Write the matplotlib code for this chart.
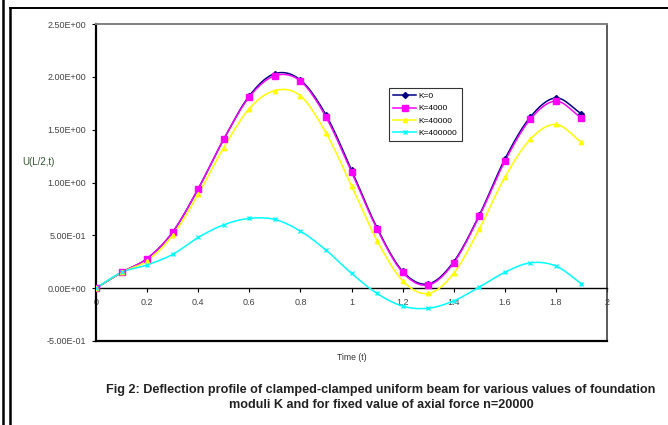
import numpy as np
import matplotlib
matplotlib.use("Agg")
import matplotlib.pyplot as plt
from matplotlib.ticker import FuncFormatter
from matplotlib.lines import Line2D

plt.rcParams['font.family'] = ['Liberation Sans', 'DejaVu Sans']

time = [0.0, 0.1, 0.2, 0.3, 0.4, 0.5, 0.6, 0.7, 0.8, 0.9,
        1.0, 1.1, 1.2, 1.3, 1.4, 1.5, 1.6, 1.7, 1.8, 1.9]

u_k0 = [0.0, 0.15, 0.28, 0.53, 0.94, 1.41, 1.82, 2.03, 1.97, 1.64,
        1.12, 0.57, 0.16, 0.04, 0.25, 0.69, 1.22, 1.62, 1.80, 1.65]
u_k4000 = [0.0, 0.15, 0.28, 0.53, 0.94, 1.41, 1.81, 2.01, 1.96, 1.62,
           1.10, 0.56, 0.15, 0.03, 0.24, 0.68, 1.20, 1.60, 1.77, 1.61]
u_k40000 = [0.0, 0.15, 0.26, 0.50, 0.89, 1.33, 1.70, 1.87, 1.82, 1.47,
            0.97, 0.45, 0.07, -0.05, 0.14, 0.56, 1.05, 1.41, 1.55, 1.38]
u_k400000 = [0.0, 0.15, 0.22, 0.32, 0.48, 0.60, 0.66, 0.65, 0.54, 0.36,
             0.14, -0.05, -0.17, -0.19, -0.12, 0.01, 0.15, 0.24, 0.21, 0.04]

labels = ['K=0', 'K=4000', 'K=40000', 'K=400000']
colors = ['#000080', '#FF00FF', '#FFFF00', '#00FFFF']
markers = ['D', 's', '^', 'x']
msizes = [3.0, 4.0, 3.2, 3.5]
series = [u_k0, u_k4000, u_k40000, u_k400000]


def smooth(x, y, n=12):
    # Excel style smoothed line (Catmull-Rom between the data points)
    x = np.asarray(x, float)
    y = np.asarray(y, float)
    px = np.concatenate([[2 * x[0] - x[1]], x, [2 * x[-1] - x[-2]]])
    py = np.concatenate([[2 * y[0] - y[1]], y, [2 * y[-1] - y[-2]]])
    xs, ys = [], []
    t = np.linspace(0, 1, n, endpoint=False)
    for i in range(1, len(px) - 2):
        for p, out in ((px, xs), (py, ys)):
            p0, p1, p2, p3 = p[i - 1], p[i], p[i + 1], p[i + 2]
            out.extend(0.5 * ((2 * p1) + (-p0 + p2) * t
                              + (2 * p0 - 5 * p1 + 4 * p2 - p3) * t ** 2
                              + (-p0 + 3 * p1 - 3 * p2 + p3) * t ** 3))
    xs.append(x[-1])
    ys.append(y[-1])
    return np.array(xs), np.array(ys)


fig = plt.figure(figsize=(6.68, 4.25), dpi=100)
ax = fig.add_axes([96 / 668, 84 / 425, 511 / 668, 317 / 425])

for y, c, m, ms, lab in zip(series, colors, markers, msizes, labels):
    sx, sy = smooth(time, y)
    ax.plot(sx, sy, color=c, lw=1.1, zorder=3)
    ax.plot(time, y, ls='none', marker=m, color=c, ms=ms,
            mew=1.0, zorder=4)

ax.set_xlim(0, 2)
ax.set_ylim(-0.5, 2.5)
ax.set_xticks(np.arange(0, 2.01, 0.2))
ax.set_yticks(np.arange(-0.5, 2.51, 0.5))
ax.xaxis.set_major_formatter(FuncFormatter(lambda v, p: f'{v:g}'))
ax.yaxis.set_major_formatter(FuncFormatter(lambda v, p: f'{v:.2E}'))
ax.tick_params(labelsize=6.5, colors='black', length=3, width=0.8,
               pad=4, labelcolor='#444444')

ax.spines['bottom'].set_position(('data', 0))
ax.spines['bottom'].set_linewidth(1.0)
ax.spines['left'].set_linewidth(1.6)
ax.spines['top'].set_color('#808080')
ax.spines['top'].set_linewidth(1.4)
ax.spines['right'].set_color('#404040')
ax.spines['right'].set_linewidth(1.2)
ax.axhline(-0.5, color='black', lw=1.6, clip_on=False, zorder=5)

handles = [Line2D([], [], color=c, marker=m, ms=ms, lw=1.1)
           for c, m, ms in zip(colors, markers, msizes)]
leg = ax.legend(handles, labels, loc='upper left',
                bbox_to_anchor=(0.573, 0.798), fontsize=6.0,
                frameon=True, fancybox=False, handlelength=2.8,
                borderpad=0.5, labelspacing=0.55, handletextpad=0.3,
                borderaxespad=0)
leg.get_frame().set_edgecolor('black')
leg.get_frame().set_linewidth(0.8)

fig.text(22 / 668, 1 - 162 / 425, 'U(L/2,t)', fontsize=7,
         color='#335533', va='center', ha='left')
fig.text(352 / 668, 1 - 357 / 425, 'Time (t)', fontsize=6.2,
         color='#333333', va='center', ha='center')
fig.text(381 / 668, 1 - 390 / 425,
         'Fig 2: Deflection profile of clamped-clamped uniform beam for '
         'various values of foundation', fontsize=9.1, weight='bold',
         color='#222222', ha='center', va='center')
fig.text(381 / 668, 1 - 405 / 425,
         'moduli K and for fixed value of axial force n=20000',
         fontsize=9.1, weight='bold', color='#222222',
         ha='center', va='center')

# outer frame lines of the figure
fig.add_artist(Line2D([3 / 668, 3 / 668], [0, 1], color='black', lw=1.8,
                      transform=fig.transFigure))
fig.add_artist(Line2D([10 / 668, 10 / 668], [0, 1 - 8 / 425],
                      color='black', lw=1.8, transform=fig.transFigure))
fig.add_artist(Line2D([10 / 668, 1], [1 - 8 / 425, 1 - 8 / 425],
                      color='black', lw=1.4, transform=fig.transFigure))

fig.savefig('out.png', dpi=100)
